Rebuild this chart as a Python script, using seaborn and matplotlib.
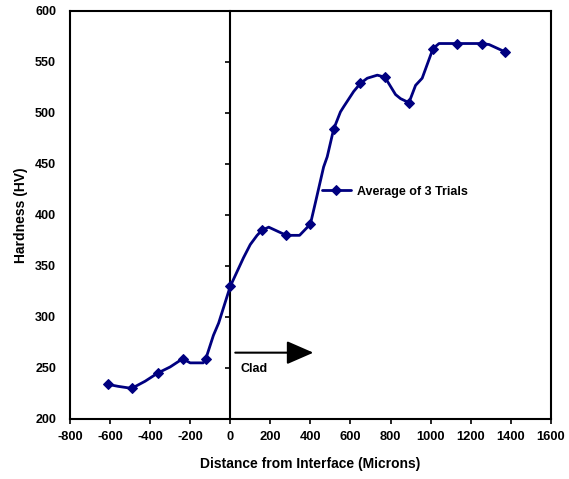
import matplotlib
matplotlib.use("Agg")
import matplotlib.pyplot as plt
import seaborn as sns


distance = [-612, -560, -492, -425, -362, -300, -238, -200, -135, -122,
            -84, -58, 0, 66, 100, 134, 158, 192, 280, 346,
            400, 425, 466, 484, 516, 550, 566, 616, 650, 684,
            734, 772, 825, 850, 892, 925, 958, 1012, 1042, 1134,
            1255, 1292, 1370]
hardness = [234, 232, 230, 237, 245, 251, 259, 255, 255, 259,
            282, 294, 330, 358, 371, 380, 385, 388, 380, 380,
            391, 412, 447, 457, 484, 501, 506, 521, 529, 534,
            537, 535, 518, 514, 510, 527, 534, 563, 568, 568,
            568, 567, 560]
# points of the curve that carry a trial marker
marked_index = [0, 2, 4, 6, 9, 12, 16, 18, 20, 24, 28, 31, 34, 37, 39, 40, 42]

x_ticks = list(range(-800, 1601, 200))
y_ticks = list(range(200, 601, 50))
series_label = "Average of 3 Trials"
LINE_COLOR = "#000080"


def main() -> None:
    sns.set_theme(style="white")
    plt.rcParams["font.family"] = ["Liberation Sans", "DejaVu Sans"]
    plt.rcParams["font.weight"] = "bold"
    plt.rcParams["axes.unicode_minus"] = False
    for key in ("text.color", "axes.labelcolor", "xtick.color", "ytick.color"):
        plt.rcParams[key] = "black"

    fig = plt.figure(figsize=(5.69, 4.79), dpi=100)
    ax = fig.add_axes([0.123, 0.1253, 0.845, 0.852])

    sns.lineplot(
        x=distance,
        y=hardness,
        sort=False,
        estimator=None,
        color=LINE_COLOR,
        linewidth=2,
        marker="D",
        markersize=5.5,
        markevery=marked_index,
        markeredgecolor=LINE_COLOR,
        markerfacecolor=LINE_COLOR,
        label=series_label,
        legend=False,
        ax=ax,
    )

    ax.set_xlim(-800, 1600)
    ax.set_ylim(200, 600)
    ax.set_xticks(x_ticks)
    ax.set_xticklabels([str(v) for v in x_ticks])
    ax.set_yticks(y_ticks)
    ax.set_yticklabels([str(v) for v in y_ticks])

    for spine in ax.spines.values():
        spine.set_color("black")
        spine.set_linewidth(1.5)

    ax.tick_params(axis="x", direction="out", length=3.5, width=1.2,
                   color="black", labelcolor="black", labelsize=9.3, pad=5,
                   bottom=True)
    ax.tick_params(axis="y", length=0, labelsize=9, labelcolor="black", pad=10)

    # value axis crosses at the interface (x = 0)
    sec = ax.secondary_yaxis(0, transform=ax.transData)
    sec.set_yticks(y_ticks)
    sec.tick_params(axis="y", direction="out", length=3.5, width=1.2,
                    color="black", labelleft=False, labelright=False)
    for spine in sec.spines.values():
        spine.set_color("black")
        spine.set_linewidth(1.5)

    ax.set_xlabel("Distance from Interface (Microns)", fontsize=10,
                  fontweight="bold", labelpad=10)
    ax.set_ylabel("Hardness (HV)", fontsize=10, fontweight="bold", labelpad=5)

    ax.annotate(
        "",
        xy=(415, 265),
        xytext=(25, 265),
        arrowprops=dict(arrowstyle="-|>,head_length=1.65,head_width=0.72",
                        mutation_scale=10, lw=1.5, color="black",
                        shrinkA=0, shrinkB=0),
    )
    ax.text(50, 249, "Clad", fontsize=9, fontweight="bold", va="center", ha="left")

    ax.legend(
        loc="center left",
        bbox_to_anchor=(0.524, 0.557),
        frameon=False,
        fontsize=9,
        handlelength=2.3,
        handletextpad=0.5,
        borderpad=0,
        borderaxespad=0,
    )

    fig.savefig("out.png", dpi=100)
    plt.close(fig)


if __name__ == "__main__":
    main()
